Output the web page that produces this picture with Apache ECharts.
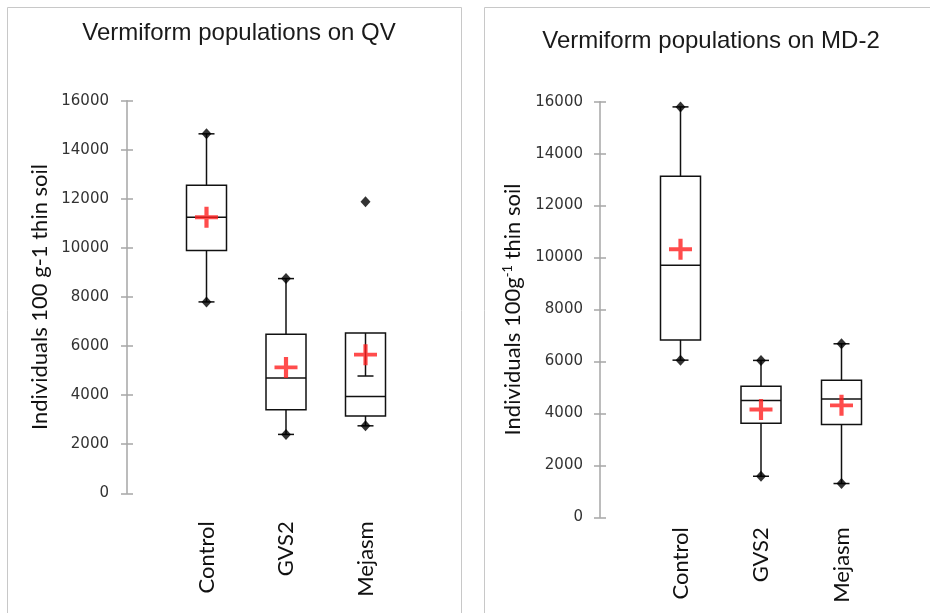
<!DOCTYPE html>
<html>
<head>
<meta charset="utf-8">
<script src="https://cdn.jsdelivr.net/npm/echarts@6/dist/echarts.min.js"></script>
<style>
html,body{margin:0;padding:0;background:#fff;}
#chart{width:930px;height:613px;}
</style>
</head>
<body>
<div id="chart"></div>
<script>
// ---- data ----
const categories = ['Control', 'GVS2', 'Mejasm'];
const yTicks = [0, 2000, 4000, 6000, 8000, 10000, 12000, 14000, 16000];

// Panel 1: QV
const qvTitle = 'Vermiform populations on QV';
const qvMin = [7800, 2400, 2750];
const qvQ1 = [9900, 3400, 3150];
const qvMedian = [11250, 4700, 3950];
const qvQ3 = [12550, 6480, 6530];
const qvWhiskerHigh = [14650, 8750, 4780];
const qvMaxObs = [14650, 8750, 11880];
const qvMean = [11250, 5130, 5650];

// Panel 2: MD-2
const mdTitle = 'Vermiform populations on MD-2';
const mdMin = [6050, 1580, 1300];
const mdQ1 = [6830, 3620, 3570];
const mdMedian = [9700, 4500, 4550];
const mdQ3 = [13130, 5050, 5280];
const mdWhiskerHigh = [15800, 6040, 6680];
const mdMaxObs = [15800, 6040, 6680];
const mdMean = [10320, 4150, 4310];

// ---- chart ----
const chart = echarts.init(document.getElementById('chart'));

const LABEL_FONT = 'Lato';
const TICK_FONT = 'DejaVu Sans';

function boxData(mn, q1, med, q3, hi) {
  return categories.map((c, i) => [i + 1, mn[i], q1[i], med[i], q3[i], hi[i]]);
}
function pointData(vals) {
  return categories.map((c, i) => [i + 1, vals[i]]);
}

function renderBox(params, api) {
  const x = api.value(0);
  const lo = api.coord([x, api.value(1)]);
  const q1 = api.coord([x, api.value(2)]);
  const med = api.coord([x, api.value(3)]);
  const q3 = api.coord([x, api.value(4)]);
  const hi = api.coord([x, api.value(5)]);
  const cx = med[0];
  const hw = 20, cw = 8;
  const st = { stroke: '#111', lineWidth: 1.5, fill: null };
  return {
    type: 'group',
    children: [
      { type: 'line', shape: { x1: cx, y1: q3[1], x2: cx, y2: hi[1] }, style: st },
      { type: 'line', shape: { x1: cx, y1: q1[1], x2: cx, y2: lo[1] }, style: st },
      { type: 'line', shape: { x1: cx - cw, y1: hi[1], x2: cx + cw, y2: hi[1] }, style: st },
      { type: 'line', shape: { x1: cx - cw, y1: lo[1], x2: cx + cw, y2: lo[1] }, style: st },
      { type: 'rect', shape: { x: cx - hw, y: q3[1], width: 2 * hw, height: q1[1] - q3[1] }, style: { stroke: '#111', lineWidth: 1.5, fill: 'rgba(255,255,255,0)' } },
      { type: 'line', shape: { x1: cx - hw, y1: med[1], x2: cx + hw, y2: med[1] }, style: st }
    ]
  };
}

const crossPath = 'path://M9,0H13V9H22V13H13V22H9V13H0V9H9Z';

function panelSeries(idx, mn, q1, med, q3, hi, maxObs, mean) {
  return [
    {
      type: 'custom', xAxisIndex: idx, yAxisIndex: idx * 2,
      renderItem: renderBox, data: boxData(mn, q1, med, q3, hi),
      encode: { x: 0, y: [1, 2, 3, 4, 5] }, silent: true, z: 2
    },
    {
      type: 'scatter', xAxisIndex: idx, yAxisIndex: idx * 2,
      symbol: 'diamond', symbolSize: [10, 11],
      itemStyle: { color: '#000' },
      data: pointData(mn).concat(pointData(maxObs)), silent: true, z: 3
    },
    {
      type: 'scatter', xAxisIndex: idx, yAxisIndex: idx * 2,
      symbol: crossPath, symbolSize: [23, 21],
      itemStyle: { color: '#ff1f1f' },
      data: pointData(mean), silent: true, z: 4
    }
  ];
}

function xAxis(idx, margin) {
  return {
    type: 'value', gridIndex: idx, min: 0, max: 4, interval: 1,
    axisLine: { show: false }, axisTick: { show: false }, splitLine: { show: false },
    axisLabel: {
      rotate: 90, margin: margin,
      formatter: v => categories[v - 1] || '',
      fontFamily: LABEL_FONT, fontSize: 22, color: '#111'
    }
  };
}

function yAxes(idx, name, margin, rich) {
  return [
    {
      type: 'value', gridIndex: idx, min: 0, max: 16000, interval: 2000,
      name: name, nameLocation: 'middle', nameGap: 76, nameRotate: 90,
      nameTextStyle: { fontFamily: LABEL_FONT, fontSize: 22, color: '#111', rich: rich },
      axisLine: { show: true, lineStyle: { color: '#a6a6a6', width: 1.5 } },
      axisTick: { show: true, length: 6, lineStyle: { color: '#a6a6a6', width: 1.5 } },
      splitLine: { show: false },
      axisLabel: { margin: margin, fontFamily: TICK_FONT, fontSize: 15, color: '#333',
        formatter: v => yTicks.indexOf(v) >= 0 ? String(v) : '' }
    },
    {
      type: 'value', gridIndex: idx, min: 0, max: 16000, interval: 2000, position: 'left',
      axisLine: { show: false },
      axisTick: { show: true, inside: true, length: 6, lineStyle: { color: '#a6a6a6', width: 1.5 } },
      axisLabel: { show: false }, splitLine: { show: false }
    }
  ];
}

const option = {
  backgroundColor: '#ffffff',
  animation: false,
  graphic: [
    { type: 'rect', shape: { x: 7.5, y: 7.5, width: 454, height: 640 }, style: { fill: null, stroke: '#c8c8c8', lineWidth: 1 } },
    { type: 'rect', shape: { x: 484.5, y: 7.5, width: 470, height: 640 }, style: { fill: null, stroke: '#c8c8c8', lineWidth: 1 } },
    { type: 'text', x: 239, y: 33, style: { text: qvTitle, textAlign: 'center', textVerticalAlign: 'middle', font: '24px "Liberation Sans"', fill: '#1a1a1a' } },
    { type: 'text', x: 711, y: 41, style: { text: mdTitle, textAlign: 'center', textVerticalAlign: 'middle', font: '24px "Liberation Sans"', fill: '#1a1a1a' } }
  ],
  grid: [
    { left: 127, top: 100.7, width: 318, height: 392.6 },
    { left: 600, top: 101.7, width: 322, height: 415.6 }
  ],
  xAxis: [xAxis(0, 28), xAxis(1, 10)],
  yAxis: yAxes(0, 'Individuals 100 g-1 thin soil', 18, {})
    .concat(yAxes(1, 'Individuals 100g{sup|-1} thin soil', 17, {
      sup: { fontFamily: LABEL_FONT, fontSize: 13, color: '#111', verticalAlign: 'top', padding: [0, 0, 10, 0] }
    })),
  series: panelSeries(0, qvMin, qvQ1, qvMedian, qvQ3, qvWhiskerHigh, qvMaxObs, qvMean)
    .concat(panelSeries(1, mdMin, mdQ1, mdMedian, mdQ3, mdWhiskerHigh, mdMaxObs, mdMean))
};
chart.setOption(option);
</script>
</body>
</html>
